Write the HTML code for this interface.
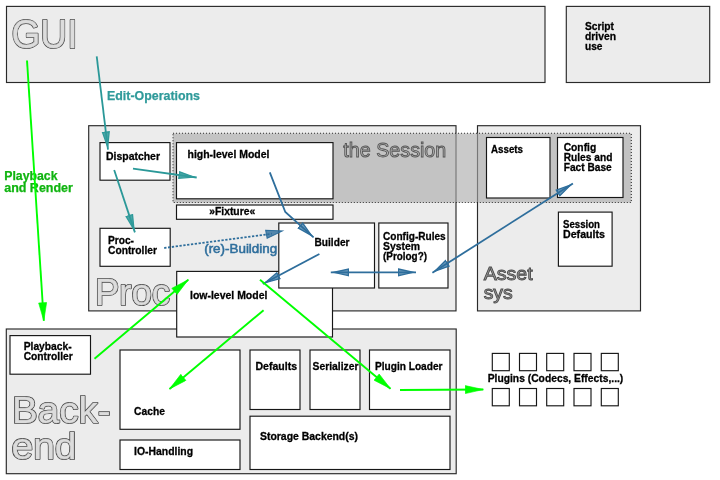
<!DOCTYPE html>
<html>
<head>
<meta charset="utf-8">
<title>Architecture overview</title>
<style>
html,body{margin:0;padding:0;background:#fff;}
body{width:720px;height:480px;overflow:hidden;font-family:"Liberation Sans",sans-serif;}
svg{display:block;will-change:transform;}
text{font-family:"Liberation Sans",sans-serif;}
.big{fill:#ececec;stroke:#2a2a2a;stroke-width:1.15;}
.wb{fill:#fff;stroke:#161616;stroke-width:1.15;}
.lbl{font-weight:bold;font-size:11.5px;fill:#000;stroke:#000;stroke-width:0.3;}
.out{fill:#484848;stroke:#484848;stroke-width:2;stroke-linejoin:round;}
.out2{fill:#dcdcdc;stroke:#dcdcdc;stroke-width:0.45;stroke-linejoin:round;}
.teal{stroke:#2a9898;stroke-width:1.8;fill:none;}
.blue{stroke:#2e6e9c;stroke-width:1.8;fill:none;}
.grn{stroke:#00ff00;stroke-width:1.9;fill:none;}
</style>
</head>
<body>
<svg width="720" height="480" viewBox="0 0 720 480">
<defs>
<marker id="mt" viewBox="0 0 19 9" refX="18.5" refY="4.5" markerWidth="19" markerHeight="9" markerUnits="userSpaceOnUse" orient="auto"><path d="M0.9,1.2 L15.5,4.5 L0.9,7.8 Z" stroke-miterlimit="10" fill="#2f9a9a" fill-opacity="0.85" stroke="#2f9a9a" stroke-width="1.35" stroke-linejoin="miter"/></marker>
<marker id="mb" viewBox="0 0 19 9" refX="18.5" refY="4.5" markerWidth="19" markerHeight="9" markerUnits="userSpaceOnUse" orient="auto"><path d="M0.9,1.2 L15.5,4.5 L0.9,7.8 Z" stroke-miterlimit="10" fill="#2e6e9c" fill-opacity="0.7" stroke="#2e6e9c" stroke-width="1.35" stroke-linejoin="miter"/></marker>
<marker id="mbs" viewBox="0 0 19 9" refX="18.5" refY="4.5" markerWidth="19" markerHeight="9" markerUnits="userSpaceOnUse" orient="auto-start-reverse"><path d="M0.9,1.2 L15.5,4.5 L0.9,7.8 Z" stroke-miterlimit="10" fill="#2e6e9c" fill-opacity="0.7" stroke="#2e6e9c" stroke-width="1.35" stroke-linejoin="miter"/></marker>
<marker id="mg" viewBox="0 0 19 9" refX="18.6" refY="4.5" markerWidth="19" markerHeight="9" markerUnits="userSpaceOnUse" orient="auto"><path d="M0.5,0.5 L18.6,4.5 L0.5,8.5 Z" fill="#00ff00" stroke="#00ff00" stroke-width="0.6"/></marker>
</defs>

<!-- big containers -->
<rect class="big" x="6.5" y="6.4" width="538.5" height="76.1"/>
<rect class="big" x="566.3" y="6.4" width="143.4" height="76.1"/>
<rect class="big" x="88.7" y="125.7" width="367.3" height="185.2"/>
<rect class="big" x="477.5" y="125.7" width="163" height="185.2"/>
<rect class="big" x="6.3" y="329" width="449.9" height="144.7"/>

<!-- session band -->
<rect x="173" y="133.3" width="458.3" height="69.2" fill="rgb(169,169,169)" fill-opacity="0.61" stroke="#111" stroke-opacity="0.85" stroke-width="1.1" stroke-dasharray="1 2"/>
<text x="343.3" y="157" font-size="20" textLength="103" lengthAdjust="spacingAndGlyphs" fill="#b4b4b4" stroke="#555" stroke-width="0.9">the Session</text>

<!-- big outlined titles -->
<text class="out" x="11.5" y="48" font-size="40" textLength="66" lengthAdjust="spacingAndGlyphs">GUI</text>
<text class="out2" x="11.5" y="48" font-size="40" textLength="66" lengthAdjust="spacingAndGlyphs">GUI</text>
<text class="out" x="95" y="304.7" font-size="36" textLength="75" lengthAdjust="spacingAndGlyphs">Proc</text>
<text class="out2" x="95" y="304.7" font-size="36" textLength="75" lengthAdjust="spacingAndGlyphs">Proc</text>
<text x="483.7" y="280" font-size="19" textLength="49" lengthAdjust="spacingAndGlyphs" fill="#a2a2a2" stroke="#4c4c4c" stroke-width="0.9">Asset</text>
<text x="483.7" y="298.7" font-size="19" textLength="29" lengthAdjust="spacingAndGlyphs" fill="#a2a2a2" stroke="#4c4c4c" stroke-width="0.9">sys</text>
<text class="out" x="12" y="423" font-size="36.5" textLength="98.5" lengthAdjust="spacingAndGlyphs">Back-</text>
<text class="out2" x="12" y="423" font-size="36.5" textLength="98.5" lengthAdjust="spacingAndGlyphs">Back-</text>
<text class="out" x="11.5" y="459" font-size="36.5" textLength="65" lengthAdjust="spacingAndGlyphs">end</text>
<text class="out2" x="11.5" y="459" font-size="36.5" textLength="65" lengthAdjust="spacingAndGlyphs">end</text>

<!-- white boxes -->
<rect class="wb" x="100" y="142.6" width="70" height="37.6"/>
<rect class="wb" x="176.5" y="142.6" width="156.5" height="56.2"/>
<rect class="wb" x="176.5" y="205" width="156.5" height="14.3"/>
<rect class="wb" x="100" y="228.3" width="70.2" height="38"/>
<rect class="wb" x="176.7" y="271.4" width="155.8" height="65.6"/>
<rect class="wb" x="278.8" y="223" width="95.7" height="65"/>
<rect class="wb" x="378.8" y="223" width="69.2" height="65"/>
<rect class="wb" x="486.5" y="137.5" width="63.5" height="60.5"/>
<rect class="wb" x="557.5" y="137.5" width="65.5" height="60"/>
<rect class="wb" x="558.4" y="212.1" width="53.7" height="54.1"/>
<rect class="wb" x="10" y="335.6" width="80.5" height="38.6"/>
<rect class="wb" x="120" y="350" width="120" height="79.3"/>
<rect class="wb" x="120" y="440" width="120" height="29.5"/>
<rect class="wb" x="250" y="350" width="50" height="59.5"/>
<rect class="wb" x="310" y="350" width="50" height="59.5"/>
<rect class="wb" x="369.5" y="350" width="80.5" height="59.5"/>
<rect class="wb" x="250" y="416.2" width="200" height="53.3"/>

<!-- plugin squares -->
<g class="wb">
<rect x="492.3" y="353.4" width="17" height="17.3"/><rect x="519.5" y="353.4" width="17" height="17.3"/><rect x="546.7" y="353.4" width="17" height="17.3"/><rect x="574" y="353.4" width="17" height="17.3"/><rect x="601.3" y="353.4" width="17" height="17.3"/>
<rect x="492.3" y="388.5" width="17" height="17.3"/><rect x="519.5" y="388.5" width="17" height="17.3"/><rect x="546.7" y="388.5" width="17" height="17.3"/><rect x="574" y="388.5" width="17" height="17.3"/><rect x="601.3" y="388.5" width="17" height="17.3"/>
</g>

<!-- labels -->
<g class="lbl">
<text x="585" y="29.6" textLength="29" lengthAdjust="spacingAndGlyphs">Script</text>
<text x="585" y="39.5" textLength="31" lengthAdjust="spacingAndGlyphs">driven</text>
<text x="585" y="49.5" textLength="17.5" lengthAdjust="spacingAndGlyphs">use</text>
<text x="106" y="160" textLength="54" lengthAdjust="spacingAndGlyphs">Dispatcher</text>
<text x="187.5" y="158" textLength="82" lengthAdjust="spacingAndGlyphs">high-level Model</text>
<text x="209.2" y="215" textLength="46" lengthAdjust="spacingAndGlyphs">»Fixture«</text>
<text x="491" y="152.5" textLength="32" lengthAdjust="spacingAndGlyphs">Assets</text>
<text x="563.7" y="151.2" textLength="32.5" lengthAdjust="spacingAndGlyphs">Config</text>
<text x="563.7" y="161.2" textLength="48.7" lengthAdjust="spacingAndGlyphs">Rules and</text>
<text x="563.7" y="171.2" textLength="48" lengthAdjust="spacingAndGlyphs">Fact Base</text>
<text x="563" y="227.6" textLength="37" lengthAdjust="spacingAndGlyphs">Session</text>
<text x="563" y="237.6" textLength="42" lengthAdjust="spacingAndGlyphs">Defaults</text>
<text x="108" y="244" textLength="26" lengthAdjust="spacingAndGlyphs">Proc-</text>
<text x="108" y="254" textLength="49" lengthAdjust="spacingAndGlyphs">Controller</text>
<text x="314.5" y="246.2" textLength="35" lengthAdjust="spacingAndGlyphs">Builder</text>
<text x="383" y="240" textLength="62.7" lengthAdjust="spacingAndGlyphs">Config-Rules</text>
<text x="383" y="250" textLength="37" lengthAdjust="spacingAndGlyphs">System</text>
<text x="383" y="260" textLength="44" lengthAdjust="spacingAndGlyphs">(Prolog?)</text>
<text x="190" y="298.8" textLength="77.4" lengthAdjust="spacingAndGlyphs">low-level Model</text>
<text x="23.7" y="349.9" textLength="48" lengthAdjust="spacingAndGlyphs">Playback-</text>
<text x="23.7" y="360.4" textLength="49" lengthAdjust="spacingAndGlyphs">Controller</text>
<text x="134.1" y="414.9" textLength="30.8" lengthAdjust="spacingAndGlyphs">Cache</text>
<text x="134.1" y="455" textLength="59" lengthAdjust="spacingAndGlyphs">IO-Handling</text>
<text x="255.5" y="370" textLength="41.5" lengthAdjust="spacingAndGlyphs">Defaults</text>
<text x="312.5" y="370" textLength="46" lengthAdjust="spacingAndGlyphs">Serializer</text>
<text x="375" y="370" textLength="67.5" lengthAdjust="spacingAndGlyphs">Plugin Loader</text>
<text x="260" y="440" textLength="98" lengthAdjust="spacingAndGlyphs">Storage Backend(s)</text>
<text x="487.7" y="382.3" textLength="135.6" lengthAdjust="spacingAndGlyphs">Plugins (Codecs, Effects,...)</text>
</g>
<text x="107" y="99.7" font-size="12.3" font-weight="bold" fill="#2f9a9a" stroke="#2f9a9a" stroke-width="0.25" textLength="93" lengthAdjust="spacingAndGlyphs">Edit-Operations</text>
<text x="4.2" y="179.7" font-size="12.5" font-weight="bold" fill="#10b410" stroke="#10b410" stroke-width="0.25" textLength="53.3" lengthAdjust="spacingAndGlyphs">Playback</text>
<text x="4.2" y="192" font-size="12.5" font-weight="bold" fill="#10b410" stroke="#10b410" stroke-width="0.25" textLength="68.7" lengthAdjust="spacingAndGlyphs">and Render</text>
<text x="204.2" y="253" font-size="13.5" fill="#2e6e9c" stroke="#2e6e9c" stroke-width="0.55" textLength="73" lengthAdjust="spacingAndGlyphs">(re)-Building</text>

<!-- teal arrows -->
<line class="teal" x1="96.7" y1="56.3" x2="108" y2="149.7" marker-end="url(#mt)"/>
<line class="teal" x1="133" y1="168.7" x2="196.7" y2="177.5" marker-end="url(#mt)"/>
<line class="teal" x1="114.2" y1="170" x2="134.9" y2="232.4" marker-end="url(#mt)"/>

<!-- blue arrows -->
<polyline class="blue" points="269.8,172.3 285.3,212 313.6,237.4" marker-end="url(#mb)"/>
<line class="blue" x1="164.2" y1="248" x2="272" y2="233.7" stroke-width="1.8" stroke-dasharray="2.3 1.55"/>
<polygon points="267.2,238.3 265.7,230.3 282.2,231.0" fill="#2e6e9c" fill-opacity="0.8" stroke="#2e6e9c" stroke-width="1.1" stroke-linejoin="miter" stroke-miterlimit="10"/>
<line class="blue" x1="319.4" y1="254" x2="262.8" y2="284" marker-end="url(#mb)"/>
<line class="blue" x1="330.8" y1="272.3" x2="416" y2="272.3" marker-start="url(#mbs)" marker-end="url(#mbs)"/>
<line class="blue" x1="572.9" y1="183.5" x2="432.4" y2="272.8" marker-start="url(#mbs)" marker-end="url(#mbs)"/>

<!-- green arrows -->
<line class="grn" x1="27" y1="60.5" x2="43.8" y2="320.8" marker-end="url(#mg)"/>
<line class="grn" x1="94.5" y1="358.7" x2="188.3" y2="279.7" marker-end="url(#mg)"/>
<line class="grn" x1="263.6" y1="310.2" x2="169.5" y2="389" marker-end="url(#mg)"/>
<line class="grn" x1="260" y1="279.8" x2="390.5" y2="388.7" marker-end="url(#mg)"/>
<line class="grn" x1="400" y1="390" x2="483.3" y2="389.5" marker-end="url(#mg)"/>
</svg>
</body>
</html>
